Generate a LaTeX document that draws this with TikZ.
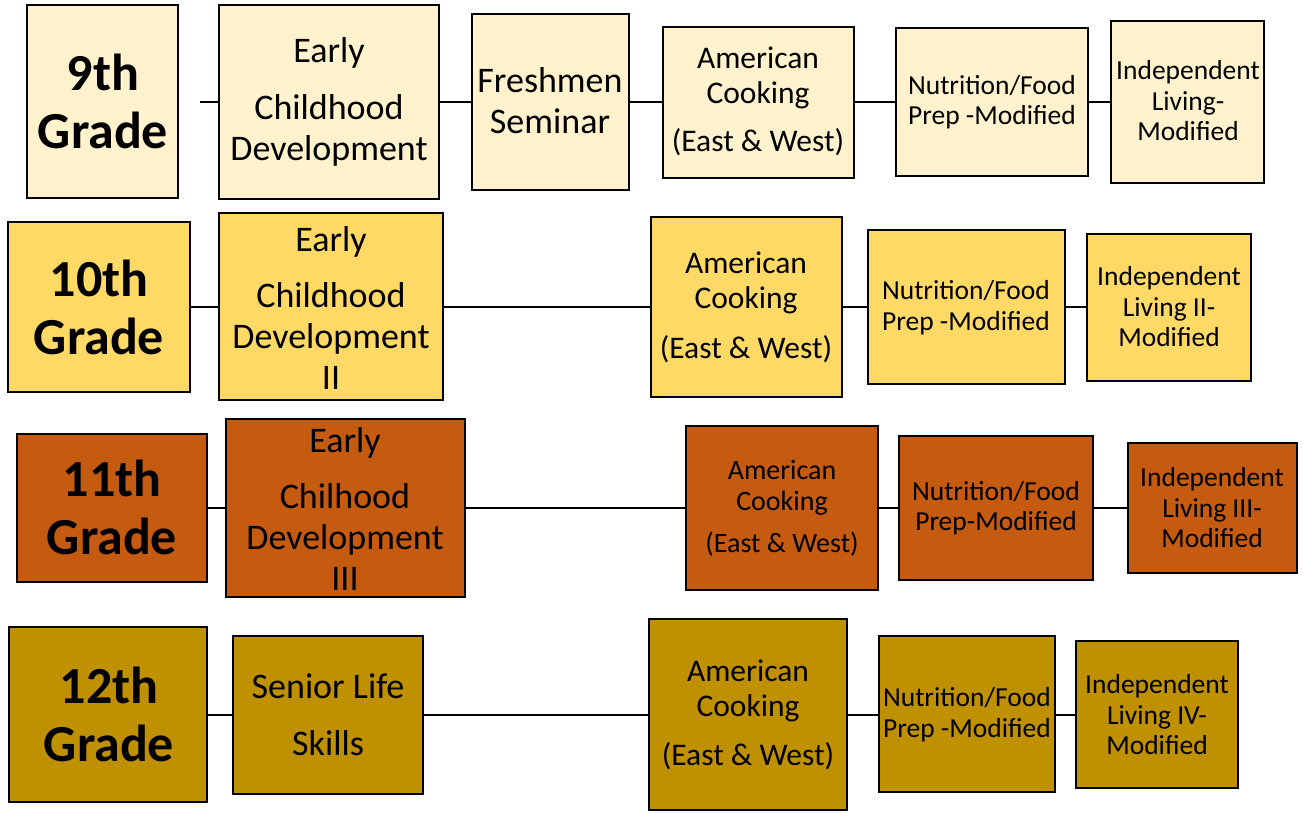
\documentclass[tikz,border=0pt]{standalone}
\usepackage{fontspec}
\setmainfont{Carlito}
\definecolor{rowA}{HTML}{FFF2CC}
\definecolor{rowB}{HTML}{FFD966}
\definecolor{rowC}{HTML}{C55A11}
\definecolor{rowD}{HTML}{BF9000}
\newcommand\bx[6]{\node[box,fill=#6,minimum width={(#4-#2)*1pt},minimum height={(#5-#3)*1pt}] (#1) at ({(#2+#4)/2},{(#3+#5)/2}) {};}
\newcommand\gradefont{\bfseries\fontsize{52}{58}\selectfont}
\newcommand\bigfont{\fontsize{36}{41}\selectfont}
\newcommand\midfont{\fontsize{31.5}{35}\selectfont}
\newcommand\smallfont{\fontsize{27.5}{30.5}\selectfont}
\begin{document}
\begin{tikzpicture}[x=1pt,y=-1pt,
  box/.style={draw=black,line width=2pt,inner sep=0pt,outer sep=0pt},
  txt/.style={align=center,inner sep=0pt,text=black},
  conn/.style={draw=black,line width=2pt}]
\useasboundingbox (0,0) rectangle (1303,812);
% ---------- row 1
\bx{a1}{27}{5}{178}{198}{rowA}
\bx{b1}{219}{5}{439}{199}{rowA}
\bx{c1}{472}{14}{629}{190}{rowA}
\bx{d1}{663}{27}{854}{178}{rowA}
\bx{e1}{896}{28}{1088}{176}{rowA}
\bx{f1}{1111}{21}{1264}{183}{rowA}
\coordinate (r1) at (0,102);
\coordinate (s1) at (200,102);
\node[txt,font=\gradefont] (ta1) at (103,101) {9th\\Grade};
\node[txt,font=\bigfont] (tb1) at (329,102) {Early\\[16pt]Childhood\\Development};
\node[txt,font=\bigfont] (tc1) at (550,101) {Freshmen\\Seminar};
\node[txt,font=\midfont] (td1) at (758,101.5) {American\\Cooking\\[13pt](East \& West)};
\node[txt,font=\smallfont] (te1) at (992,102) {Nutrition/Food\\Prep -Modified};
\node[txt,font=\smallfont] (tf1) at (1188,101) {Independent\\Living-\\Modified};
\draw[conn] (s1) -- (b1.west |- r1);
\draw[conn] (b1.east |- r1) -- (c1.west |- r1);
\draw[conn] (c1.east |- r1) -- (d1.west |- r1);
\draw[conn] (d1.east |- r1) -- (e1.west |- r1);
\draw[conn] (e1.east |- r1) -- (f1.west |- r1);
% ---------- row 2
\bx{a2}{8}{222}{190}{392}{rowB}
\bx{b2}{219}{213}{443}{400}{rowB}
\bx{d2}{651}{217}{842}{397}{rowB}
\bx{e2}{868}{230}{1065}{384}{rowB}
\bx{f2}{1087}{234}{1251}{381}{rowB}
\coordinate (r2) at (0,307);
\node[txt,font=\gradefont] (ta2) at (99,307) {10th\\Grade};
\node[txt,font=\bigfont] (tb2) at (331,308) {Early\\[15pt]Childhood\\Development\\II};
\node[txt,font=\midfont] (td2) at (746,307.5) {American\\Cooking\\[15pt](East \& West)};
\node[txt,font=\smallfont] (te2) at (966,307.5) {Nutrition/Food\\Prep -Modified};
\node[txt,font=\smallfont] (tf2) at (1169,307) {Independent\\Living II-\\Modified};
\draw[conn] (a2.east |- r2) -- (b2.west |- r2);
\draw[conn] (b2.east |- r2) -- (d2.west |- r2);
\draw[conn] (d2.east |- r2) -- (e2.west |- r2);
\draw[conn] (e2.east |- r2) -- (f2.west |- r2);
% ---------- row 3
\bx{a3}{17}{434}{207}{582}{rowC}
\bx{b3}{226}{419}{465}{597}{rowC}
\bx{d3}{686}{426}{878}{590}{rowC}
\bx{e3}{899}{436}{1093}{580}{rowC}
\bx{f3}{1128}{443}{1297}{573}{rowC}
\coordinate (r3) at (0,508);
\node[txt,font=\gradefont] (ta3) at (112,507.5) {11th\\Grade};
\node[txt,font=\bigfont] (tb3) at (345,509) {Early\\[15pt]Chilhood\\Development\\III};
\node[txt,font=\fontsize{28}{31}\selectfont] (td3) at (782,508.5) {American\\Cooking\\[11pt](East \& West)};
\node[txt,font=\smallfont] (te3) at (996,508) {Nutrition/Food\\Prep-Modified};
\node[txt,font=\smallfont] (tf3) at (1212,508) {Independent\\Living III-\\Modified};
\draw[conn] (a3.east |- r3) -- (b3.west |- r3);
\draw[conn] (b3.east |- r3) -- (d3.west |- r3);
\draw[conn] (d3.east |- r3) -- (e3.west |- r3);
\draw[conn] (e3.east |- r3) -- (f3.west |- r3);
% ---------- row 4
\bx{a4}{9}{627}{207}{802}{rowD}
\bx{b4}{233}{636}{423}{794}{rowD}
\bx{d4}{649}{619}{847}{810}{rowD}
\bx{e4}{879}{636}{1055}{792}{rowD}
\bx{f4}{1076}{641}{1238}{788}{rowD}
\coordinate (r4) at (0,715);
\node[txt,font=\gradefont] (ta4) at (109,714.5) {12th\\Grade};
\node[txt,font=\bigfont] (tb4) at (328,714.5) {Senior Life\\[16pt]Skills};
\node[txt,font=\midfont] (td4) at (748,715) {American\\Cooking\\[14pt](East \& West)};
\node[txt,font=\smallfont] (te4) at (967,714.5) {Nutrition/Food\\Prep -Modified};
\node[txt,font=\smallfont] (tf4) at (1157,715) {Independent\\Living IV-\\Modified};
\draw[conn] (a4.east |- r4) -- (b4.west |- r4);
\draw[conn] (b4.east |- r4) -- (d4.west |- r4);
\draw[conn] (d4.east |- r4) -- (e4.west |- r4);
\draw[conn] (e4.east |- r4) -- (f4.west |- r4);
\end{tikzpicture}
\end{document}
